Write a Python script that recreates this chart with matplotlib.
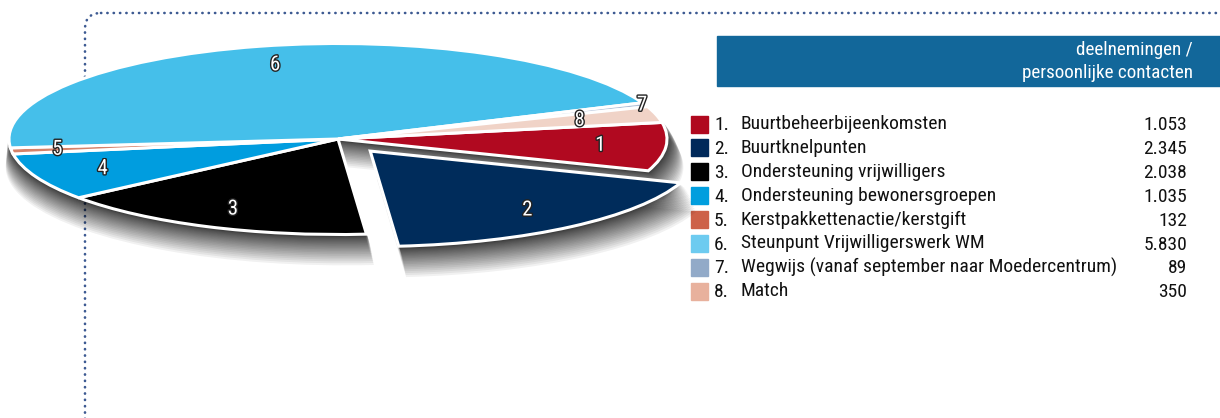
import numpy as np
import matplotlib
matplotlib.use('Agg')
import matplotlib.pyplot as plt
from matplotlib.patches import Wedge, FancyBboxPatch, Rectangle
import matplotlib.patheffects as pe

# ---------------- data ----------------
numbers = ['1', '2', '3', '4', '5', '6', '7', '8']
categories = ['Buurtbeheerbijeenkomsten',
              'Buurtknelpunten',
              'Ondersteuning vrijwilligers',
              'Ondersteuning bewonersgroepen',
              'Kerstpakkettenactie/kerstgift',
              'Steunpunt Vrijwilligerswerk WM',
              'Wegwijs (vanaf september naar Moedercentrum)',
              'Match']
values = [1053, 2345, 2038, 1035, 132, 5830, 89, 350]
value_labels = ['1.053', '2.345', '2.038', '1.035', '132', '5.830', '89', '350']
header_lines = ['deelnemingen /', 'persoonlijke contacten']

# ---------------- style ----------------
pie_colors = ['#b10920', '#002c5b', '#000000', '#009ddf',
              '#d5826a', '#45bfea', '#aebfd7', '#f0d3c7']
legend_colors = ['#b0081f', '#00295a', '#000000', '#009ede',
                 '#cd6148', '#6dcbf0', '#92aac8', '#e8b19d']
explode = [0, 0.16, 0, 0, 0, 0, 0, 0]
label_radius = [0.8, 0.78, 0.8, 0.78, 0.86, 0.8, 0.99, 0.76]

FONT = ['Roboto Condensed', 'Roboto', 'DejaVu Sans']
plt.rcParams['font.family'] = FONT

W, H = 1220, 418
fig = plt.figure(figsize=(W / 100, H / 100), dpi=100)

# background / legend axes in pixel coordinates
axb = fig.add_axes([0, 0, 1, 1])
axb.set_xlim(0, W)
axb.set_ylim(H, 0)
axb.axis('off')

border = FancyBboxPatch((85, 13), 1400, 440,
                        boxstyle='round,pad=0,rounding_size=16',
                        fill=False, ec='#3d5a92', lw=1.9,
                        linestyle=(0, (0.1, 2.3)), capstyle='round',
                        clip_on=False)
axb.add_patch(border)

# header box
axb.add_patch(Rectangle((717, 36), 520, 50, color='#12679a', clip_on=False))
axb.text(1193, 50, header_lines[0], ha='right', va='center',
         color='white', fontsize=13.8)
axb.text(1193, 73, header_lines[1], ha='right', va='center',
         color='white', fontsize=13.8)

# legend rows
y0, dy = 124, 23.9
for i in range(len(values)):
    y = y0 + i * dy
    axb.add_patch(Rectangle((691, y - 8.5), 17, 17, color=legend_colors[i]))
    axb.text(714, y + 1, numbers[i] + '.', ha='left', va='center',
             fontsize=14, color='#111111')
    axb.text(741, y, categories[i], ha='left', va='center',
             fontsize=14, color='#111111')
    axb.text(1187, y + 1, value_labels[i], ha='right', va='center',
             fontsize=14, color='#111111')

# pie axes: unit circle mapped to a flattened ellipse
cx, cy = 338, 139
a, b = 329, 95.5
ax = fig.add_axes([0, 0, 1, 1])
wedges, _ = ax.pie(values, colors=pie_colors, startangle=10,
                   counterclock=False, explode=explode,
                   wedgeprops=dict(edgecolor='white', linewidth=2.2))
ax.set_aspect('auto')
ax.set_xlim(-cx / a, (W - cx) / a)
ax.set_ylim(-(H - cy) / b, cy / b)
ax.axis('off')
for w in wedges:
    w.set_zorder(3)

# soft drop shadow below the pie
ex = wedges[1]
shadow_shapes = [((0, 0), ex.theta2, ex.theta1 + 360),
                 (ex.center, ex.theta1, ex.theta2)]
t = np.linspace(0, 1, 24)
offsets = (2 + 26 * t ** 1.7) / b
for (c, t1, t2) in shadow_shapes:
    for k, off in enumerate(offsets):
        sh = Wedge((c[0] + 0.02 * t[k], c[1] - off), 1.0 + 0.03 * t[k], t1, t2,
                   facecolor='black', edgecolor='none', alpha=0.055,
                   zorder=1)
        ax.add_patch(sh)

# slice labels
for i, w in enumerate(wedges):
    mid = np.deg2rad((w.theta1 + w.theta2) / 2)
    r = label_radius[i]
    x = w.center[0] + r * np.cos(mid)
    y = w.center[1] + r * np.sin(mid)
    ax.text(x, y, numbers[i], ha='center', va='center', fontsize=15,
            color='white', zorder=5,
            path_effects=[pe.Stroke(linewidth=2, foreground='#222222'),
                          pe.Normal()])

fig.savefig('out.png', dpi=100)
